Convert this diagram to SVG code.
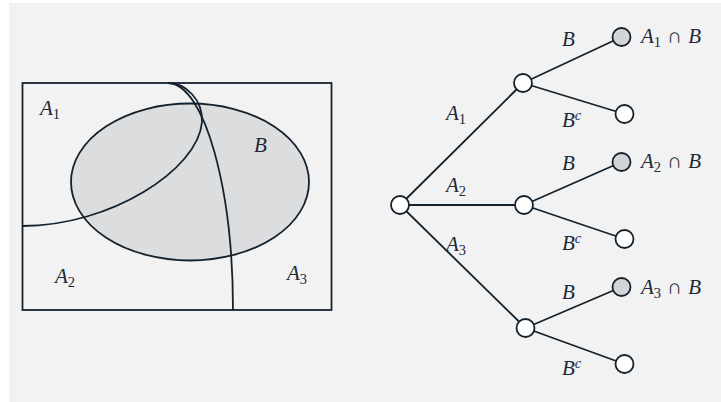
<svg xmlns="http://www.w3.org/2000/svg" width="721" height="402" viewBox="0 0 721 402">
<style>
.ln{fill:none;stroke:#14222e;stroke-width:1.8}
.nd{fill:#ffffff;stroke:#14222e;stroke-width:1.8}
.lf{fill:#d3d4d6;stroke:#14222e;stroke-width:1.8}
.t{font-family:"Liberation Serif","DejaVu Serif",serif;font-style:italic;font-size:21px;fill:#1c2a36}
.s{font-size:14.5px;font-style:normal}
.u{font-style:normal}
</style>
<rect x="0" y="0" width="721" height="402" fill="#ffffff"/>
<rect x="9" y="3" width="712" height="399" fill="#f2f2f2"/>
<g id="venn">
<ellipse cx="190" cy="182" rx="119" ry="78.5" fill="#dcdddf" stroke="#14222e" stroke-width="1.8"/>
<rect class="ln" x="22.5" y="83" width="309" height="227"/>
<path class="ln" d="M168,83 C186,83 203,100 202,122 C198,170 110,226 22.5,226"/>
<path class="ln" d="M168,83 C205,84 233,190 233,310"/>
<text class="t" x="40" y="115">A<tspan class="s" dy="4">1</tspan></text>
<text class="t" x="254" y="152">B</text>
<text class="t" x="55" y="283">A<tspan class="s" dy="4">2</tspan></text>
<text class="t" x="287" y="280">A<tspan class="s" dy="4">3</tspan></text>
</g>
<g id="connectors">
<line class="ln" x1="400" y1="205" x2="523" y2="83"/>
<line class="ln" x1="400" y1="205" x2="524" y2="205"/>
<line class="ln" x1="400" y1="205" x2="525.5" y2="328"/>
<line class="ln" x1="523" y1="83" x2="621.5" y2="37"/>
<line class="ln" x1="523" y1="83" x2="624.5" y2="114"/>
<line class="ln" x1="524" y1="205" x2="621.5" y2="162"/>
<line class="ln" x1="524" y1="205" x2="624.5" y2="239"/>
<line class="ln" x1="525.5" y1="328" x2="621.5" y2="287"/>
<line class="ln" x1="525.5" y1="328" x2="624.5" y2="364"/>
</g>
<g id="root"><circle class="nd" cx="400" cy="205" r="9"/></g>
<g id="n1"><circle class="nd" cx="523" cy="83" r="9"/></g>
<g id="n2"><circle class="nd" cx="524" cy="205" r="9"/></g>
<g id="n3"><circle class="nd" cx="525.5" cy="328" r="9"/></g>
<g id="l1b"><circle class="lf" cx="621.5" cy="37" r="9"/></g>
<g id="l1c"><circle class="nd" cx="624.5" cy="114" r="9"/></g>
<g id="l2b"><circle class="lf" cx="621.5" cy="162" r="9"/></g>
<g id="l2c"><circle class="nd" cx="624.5" cy="239" r="9"/></g>
<g id="l3b"><circle class="lf" cx="621.5" cy="287" r="9"/></g>
<g id="l3c"><circle class="nd" cx="624.5" cy="364" r="9"/></g>
<g id="labels">
<text class="t" x="446" y="120">A<tspan class="s" dy="4">1</tspan></text>
<text class="t" x="446" y="192">A<tspan class="s" dy="4">2</tspan></text>
<text class="t" x="446" y="251">A<tspan class="s" dy="4">3</tspan></text>
<text class="t" x="562" y="46">B</text>
<text class="t" x="562" y="170">B</text>
<text class="t" x="562" y="299">B</text>
<text class="t" x="562" y="127">B<tspan class="s" dy="-7" style="font-style:italic">c</tspan></text>
<text class="t" x="562" y="250">B<tspan class="s" dy="-7" style="font-style:italic">c</tspan></text>
<text class="t" x="562" y="375">B<tspan class="s" dy="-7" style="font-style:italic">c</tspan></text>
<text class="t" x="641" y="43">A<tspan class="s" dy="4">1</tspan><tspan class="u" dy="-4" dx="6">∩</tspan><tspan dx="6">B</tspan></text>
<text class="t" x="641" y="168">A<tspan class="s" dy="4">2</tspan><tspan class="u" dy="-4" dx="6">∩</tspan><tspan dx="6">B</tspan></text>
<text class="t" x="641" y="294">A<tspan class="s" dy="4">3</tspan><tspan class="u" dy="-4" dx="6">∩</tspan><tspan dx="6">B</tspan></text>
</g>
</svg>
